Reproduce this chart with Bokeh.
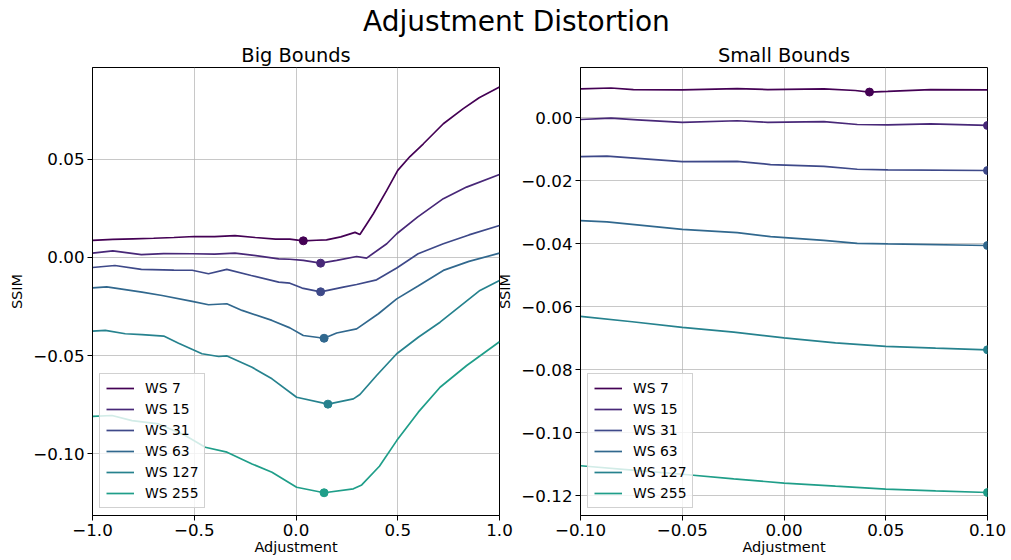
from bokeh.plotting import figure
from bokeh.models import Range1d, FixedTicker, CustomJSTickFormatter, Div, Legend, LegendItem
from bokeh.layouts import row, column
from bokeh.embed import file_html
from bokeh.resources import INLINE

# ---------------- data ----------------
series_labels = ["WS 7", "WS 15", "WS 31", "WS 63", "WS 127", "WS 255"]
series_colors = ["#440154", "#482878", "#3e4989", "#31688e", "#26828e", "#1f9e89"]

# Big Bounds
big_ws7_x = [-1.0, -0.9, -0.8, -0.7, -0.6, -0.5, -0.4, -0.3, -0.2, -0.1, -0.03, 0.036, 0.1, 0.15, 0.22, 0.29, 0.314, 0.35, 0.38, 0.446, 0.5, 0.56, 0.626, 0.724, 0.822, 0.9, 1.0]
big_ws7_y = [0.0087, 0.0092, 0.0095, 0.0098, 0.0102, 0.0107, 0.0106, 0.0111, 0.0102, 0.0094, 0.0094, 0.0085, 0.0088, 0.0090, 0.0105, 0.0128, 0.0117, 0.0175, 0.0223, 0.0342, 0.0444, 0.0515, 0.0580, 0.0682, 0.0759, 0.0815, 0.0869]
big_ws15_x = [-1.0, -0.9, -0.76, -0.65, -0.51, -0.4, -0.3, -0.18, -0.085, -0.03, 0.036, 0.121, 0.2, 0.298, 0.347, 0.446, 0.495, 0.597, 0.724, 0.838, 1.0]
big_ws15_y = [0.0022, 0.0034, 0.0015, 0.0020, 0.0019, 0.0017, 0.0022, 0.0007, -0.0007, -0.0009, -0.0015, -0.0029, -0.0015, 0.0005, -0.0003, 0.0070, 0.0121, 0.0206, 0.0300, 0.0359, 0.0423]
big_ws31_x = [-1.0, -0.89, -0.76, -0.6, -0.51, -0.43, -0.34, -0.22, -0.085, -0.03, 0.03, 0.121, 0.2325, 0.298, 0.396, 0.495, 0.6, 0.724, 0.85, 1.0]
big_ws31_y = [-0.0051, -0.0041, -0.0061, -0.0064, -0.0065, -0.0083, -0.0061, -0.0092, -0.0126, -0.0131, -0.0156, -0.0175, -0.0151, -0.0138, -0.0114, -0.0054, 0.0019, 0.0070, 0.0115, 0.0163]
big_ws63_x = [-1.0, -0.93, -0.757, -0.658, -0.51, -0.43, -0.34, -0.265, -0.118, -0.03, 0.036, 0.138, 0.2, 0.298, 0.405, 0.495, 0.6, 0.724, 0.85, 1.0]
big_ws63_y = [-0.0155, -0.0150, -0.0177, -0.0194, -0.0224, -0.0241, -0.0236, -0.0270, -0.0321, -0.0359, -0.0398, -0.0412, -0.0385, -0.0364, -0.0287, -0.0211, -0.0145, -0.0066, -0.0020, 0.0022]
big_ws127_x = [-1.0, -0.937, -0.839, -0.757, -0.65, -0.577, -0.462, -0.38, -0.339, -0.216, -0.118, 0.003, 0.157, 0.282, 0.314, 0.396, 0.495, 0.601, 0.708, 0.904, 1.0]
big_ws127_y = [-0.0376, -0.0372, -0.0389, -0.0393, -0.0401, -0.0437, -0.0491, -0.0505, -0.0502, -0.0560, -0.0619, -0.0713, -0.0748, -0.0721, -0.0699, -0.0602, -0.0491, -0.0407, -0.0330, -0.0168, -0.0117]
big_ws255_x = [-1.0, -0.904, -0.806, -0.675, -0.544, -0.446, -0.339, -0.216, -0.118, 0.003, 0.138, 0.282, 0.323, 0.41, 0.495, 0.601, 0.708, 0.839, 1.0]
big_ws255_y = [-0.0810, -0.0806, -0.0832, -0.0849, -0.0908, -0.0968, -0.0993, -0.1053, -0.1095, -0.1172, -0.1200, -0.1180, -0.1160, -0.1065, -0.0934, -0.0789, -0.0662, -0.0551, -0.0430]

# Small Bounds
small_ws7_x = [-0.1, -0.085, -0.074, -0.05, -0.023, -0.008, 0.0196, 0.035, 0.042, 0.051, 0.072, 0.1]
small_ws7_y = [0.0091, 0.0094, 0.0089, 0.0088, 0.0092, 0.0089, 0.0091, 0.0086, 0.0081, 0.0083, 0.0089, 0.0088]
small_ws15_x = [-0.1, -0.085, -0.072, -0.05, -0.023, -0.008, 0.0196, 0.036, 0.051, 0.072, 0.1]
small_ws15_y = [-0.0006, -0.0002, -0.0007, -0.0015, -0.0010, -0.0015, -0.0013, -0.0022, -0.0023, -0.0020, -0.0025]
small_ws31_x = [-0.1, -0.087, -0.05, -0.023, -0.0066, 0.0196, 0.036, 0.051, 0.1]
small_ws31_y = [-0.0124, -0.0122, -0.0140, -0.0139, -0.0149, -0.0155, -0.0164, -0.0166, -0.0168]
small_ws63_x = [-0.1, -0.087, -0.05, -0.023, -0.0066, 0.0196, 0.036, 0.051, 0.1]
small_ws63_y = [-0.0327, -0.0331, -0.0355, -0.0365, -0.0378, -0.0390, -0.0399, -0.0401, -0.0406]
small_ws127_x = [-0.1, -0.0746, -0.05, -0.0247, 0.0, 0.0253, 0.05, 0.0745, 0.1]
small_ws127_y = [-0.0631, -0.0648, -0.0666, -0.0681, -0.0699, -0.0715, -0.0726, -0.0732, -0.0737]
small_ws255_x = [-0.1, -0.0746, -0.05, -0.0247, 0.0, 0.0253, 0.05, 0.0745, 0.1]
small_ws255_y = [-0.1105, -0.1119, -0.1132, -0.1147, -0.1160, -0.1170, -0.1179, -0.1185, -0.1190]

big_xticks = [-1.0, -0.5, 0.0, 0.5, 1.0]
big_yticks = [-0.10, -0.05, 0.0, 0.05]
small_xticks = [-0.10, -0.05, 0.0, 0.05, 0.10]
small_yticks = [-0.12, -0.10, -0.08, -0.06, -0.04, -0.02, 0.0]

big_series = [(big_ws7_x, big_ws7_y), (big_ws15_x, big_ws15_y), (big_ws31_x, big_ws31_y),
              (big_ws63_x, big_ws63_y), (big_ws127_x, big_ws127_y), (big_ws255_x, big_ws255_y)]
small_series = [(small_ws7_x, small_ws7_y), (small_ws15_x, small_ws15_y), (small_ws31_x, small_ws31_y),
                (small_ws63_x, small_ws63_y), (small_ws127_x, small_ws127_y), (small_ws255_x, small_ws255_y)]

FONT = "DejaVu Sans"


def fmt(decimals):
    return CustomJSTickFormatter(code="""
        var v = Math.abs(tick) < 1e-12 ? 0 : tick;
        var s = Math.abs(v).toFixed(%d);
        return (v < 0 ? '\\u2212' : '') + s;
    """ % decimals)


def make_plot(title, series, xr, yr, xticks, yticks, xdec, ydec, mb_left, mb_right):
    p = figure(frame_width=407, frame_height=448, x_range=Range1d(*xr), y_range=Range1d(*yr),
               output_backend="svg", toolbar_location=None, title=title,
               min_border_left=mb_left, min_border_right=mb_right, min_border_top=31, min_border_bottom=10)
    p.border_fill_color = None
    p.background_fill_color = "white"
    p.outline_line_color = "black"
    p.outline_line_width = 1
    p.title.text_font = FONT
    p.title.text_font_size = "19.4px"
    p.title.text_font_style = "normal"
    p.title.align = "center"
    p.title.standoff = 2
    p.title.text_color = "black"
    for ax in (p.xaxis, p.yaxis):
        ax.major_label_text_font = FONT
        ax.major_label_text_font_size = "16.7px"
        ax.major_label_text_color = "black"
        ax.axis_label_text_font = FONT
        ax.axis_label_text_font_size = "14.5px"
        ax.axis_label_text_font_style = "normal"
        ax.axis_label_text_color = "black"
        ax.major_tick_out = 5
        ax.major_tick_in = 0
        ax.minor_tick_line_color = None
        ax.axis_line_color = "black"
        ax.major_tick_line_color = "black"
        ax.major_label_standoff = 3
    p.xaxis.axis_label = "Adjustment"
    p.yaxis.axis_label = "SSIM"
    p.xaxis.axis_label_standoff = 0
    p.yaxis.axis_label_standoff = 5
    p.xaxis.ticker = FixedTicker(ticks=xticks)
    p.yaxis.ticker = FixedTicker(ticks=yticks)
    p.xaxis.formatter = fmt(xdec)
    p.yaxis.formatter = fmt(ydec)
    p.grid.grid_line_color = "#b0b0b0"
    p.grid.grid_line_alpha = 0.7
    p.grid.grid_line_width = 1

    items = []
    for (xs, ys), lab, col in zip(series, series_labels, series_colors):
        r = p.line(xs, ys, line_color=col, line_width=1.7)
        i = min(range(len(ys)), key=lambda k: ys[k])
        p.scatter([xs[i]], [ys[i]], size=8, fill_color=col, line_color=col)
        items.append(LegendItem(label=lab, renderers=[r]))
    leg = Legend(items=items, location="bottom_left")
    leg.margin = 7
    leg.padding = 6
    leg.spacing = 5
    leg.glyph_width = 28
    leg.glyph_height = 16
    leg.label_standoff = 11
    leg.label_text_font = FONT
    leg.label_text_font_size = "13.9px"
    leg.label_text_color = "black"
    leg.border_line_color = "#cccccc"
    leg.border_line_alpha = 0.9
    leg.background_fill_alpha = 0.8
    p.add_layout(leg)
    return p


p1 = make_plot("Big Bounds", big_series, (-1.0, 1.0), (-0.1316, 0.0969),
               big_xticks, big_yticks, 1, 2, 92, 15)
p2 = make_plot("Small Bounds", small_series, (-0.1, 0.1), (-0.1263, 0.0159),
               small_xticks, small_yticks, 2, 2, 80, 20)
p2.margin = (0, 0, 0, -20)

title = Div(text='<div style="padding-left:363px; padding-top:8px; font-family:\'DejaVu Sans\'; '
                 'font-size:28px; line-height:28px; color:black; white-space:nowrap;">Adjustment Distortion</div>',
            width=1000, height=36, margin=(0, 0, 0, 0))

layout = column(title, row(p1, p2, spacing=0), spacing=0)
open("out.html", "w").write(file_html(layout, INLINE))
